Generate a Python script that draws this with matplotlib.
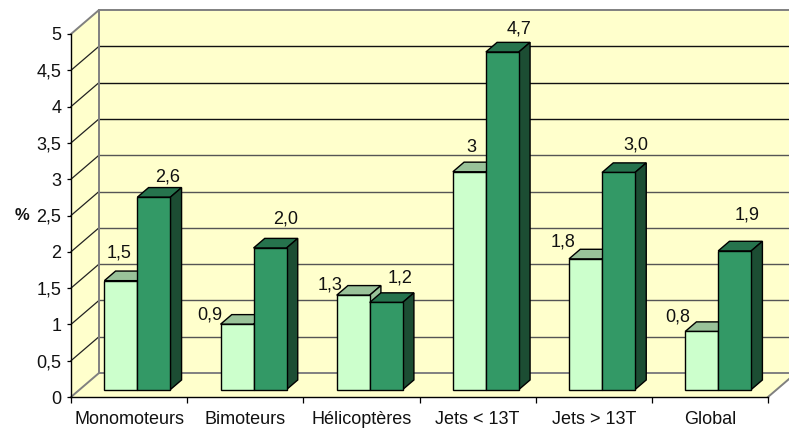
import matplotlib
matplotlib.use("Agg")
import matplotlib.pyplot as plt
from matplotlib.patches import Polygon

plt.rcParams['font.family'] = ['Liberation Sans', 'DejaVu Sans']

categories = ['Monomoteurs', 'Bimoteurs', 'Hélicoptères', 'Jets < 13T', 'Jets > 13T', 'Global']
serie_claire = [1.5, 0.9, 1.3, 3.0, 1.8, 0.8]
serie_foncee = [2.65, 1.95, 1.2, 4.65, 2.99, 1.91]
labels_claire = ['1,5', '0,9', '1,3', '3', '1,8', '0,8']
labels_foncee = ['2,6', '2,0', '1,2', '4,7', '3,0', '1,9']
y_ticks = [0, 0.5, 1, 1.5, 2, 2.5, 3, 3.5, 4, 4.5, 5]
y_tick_labels = ['0', '0,5', '1', '1,5', '2', '2,5', '3', '3,5', '4', '4,5', '5']

# geometrie en pixels
W, H = 789, 430
X0, Y0 = 71, 397
PX_CAT = 697 / 6
PX_VAL = 72.6
DX, DY = 28 / PX_CAT, 24 / PX_VAL

# decalages des etiquettes en pixels (par rapport au centre du haut de la barre)
OFFSET_CLAIRE = [(-2, 28), (-27, 9), (-23, 10), (2, 24), (-22, 17), (-24, 14)]
OFFSET_FONCEE = [(14, 20), (16, 29), (14, 24), (17, 23), (17, 27), (12, 36)]


def proj(x, y, d):
    return (x + d * DX, y + d * DY)


def draw_box(ax, x1, x2, val, face, top, side):
    d1, d2 = 0.31, 0.71
    base = -0.0
    a = proj(x1, base, d1)
    b = proj(x2, base, d1)
    c = proj(x2, val, d1)
    e = proj(x1, val, d1)
    f = proj(x2, base, d2)
    g = proj(x2, val, d2)
    h = proj(x1, val, d2)
    ax.add_patch(Polygon([e, c, g, h], fc=top, ec='black', lw=1.0, zorder=3))
    ax.add_patch(Polygon([b, f, g, c], fc=side, ec='black', lw=1.0, zorder=3))
    ax.add_patch(Polygon([a, b, c, e], fc=face, ec='black', lw=1.0, zorder=3))


fig = plt.figure(figsize=(W / 100, H / 100), dpi=100)
ax = fig.add_axes([0, 0, 1, 1])
ax.set_xlim(-X0 / PX_CAT, (W - X0) / PX_CAT)
ax.set_ylim(-(H - Y0) / PX_VAL, Y0 / PX_VAL)
ax.patch.set_visible(False)

n = len(categories)
y_max = y_ticks[-1]

# murs et plancher
ax.add_patch(Polygon([proj(0, 0, 1), proj(n, 0, 1), proj(n, y_max, 1), proj(0, y_max, 1)],
                     fc='#FFFFCC', ec='none', zorder=0))
ax.add_patch(Polygon([proj(0, 0, 0), proj(0, 0, 1), proj(0, y_max, 1), proj(0, y_max, 0)],
                     fc='#FFFFCC', ec='none', zorder=0))
ax.add_patch(Polygon([proj(0, 0, 0), proj(n, 0, 0), proj(n, 0, 1), proj(0, 0, 1)],
                     fc='#FFFFCC', ec='none', zorder=0))

# grille (le trait est plus clair vers le bas dans l'image d'origine)
for v in y_ticks[1:-1]:
    couleur = '#111111' if v >= 3.5 else '#555555'
    p0, p1, p2 = proj(0, v, 0), proj(0, v, 1), proj(n, v, 1)
    ax.plot([p0[0], p1[0]], [p0[1], p1[1]], color='#222222', lw=0.9, zorder=1)
    ax.plot([p1[0], p2[0]], [p1[1], p2[1]], color=couleur, lw=1.0, zorder=1)

# bords gris
gris = '#808080'
for pts in ([proj(0, y_max, 0), proj(0, y_max, 1), proj(n, y_max, 1)],
            [proj(0, 0, 0), proj(0, 0, 1), proj(n, 0, 1)],
            [proj(n, 0, 0), proj(n, 0, 1)],
            [proj(0, 0, 1), proj(0, y_max, 1)]):
    ax.plot([p[0] for p in pts], [p[1] for p in pts], color=gris, lw=1.4, zorder=1)

# barres
largeur = 33 / PX_CAT
debut = 24.7 / PX_CAT
for i in range(n):
    x1 = i + debut
    x2 = x1 + largeur
    x3 = x2 + largeur
    draw_box(ax, x1, x2, serie_claire[i], '#CCFFCC', '#99C299', '#99C299')
    draw_box(ax, x2, x3, serie_foncee[i], '#339966', '#26734D', '#1C4D33')
    for x, val, txt, off in ((x1, serie_claire[i], labels_claire[i], OFFSET_CLAIRE[i]),
                             (x2, serie_foncee[i], labels_foncee[i], OFFSET_FONCEE[i])):
        px, py = proj(x + largeur / 2, val, 0.31)
        ax.text(px + off[0] / PX_CAT, py + off[1] / PX_VAL, txt, ha='center', va='center',
                fontsize=13, color='#111111', zorder=4)

# axes
for s in ('top', 'right'):
    ax.spines[s].set_visible(False)
ax.spines['left'].set_position(('data', 0))
ax.spines['bottom'].set_position(('data', 0))
ax.spines['left'].set_bounds(0, y_max)
ax.spines['bottom'].set_bounds(0, n)
ax.spines['left'].set_linewidth(1.0)
ax.spines['bottom'].set_linewidth(1.0)
ax.set_yticks(y_ticks)
ax.set_yticklabels(y_tick_labels, fontsize=13, color='#111111')
ax.set_xticks(range(n + 1))
ax.set_xticklabels([])
ax.set_xticks([i + 0.5 for i in range(n)], minor=True)
ax.set_xticklabels(categories, minor=True, fontsize=13, color='#111111')
ax.tick_params(axis='y', length=3, width=0.9, pad=4)
ax.tick_params(axis='x', which='major', length=4, width=0.9)
ax.tick_params(axis='x', which='minor', length=0, pad=10)

ax.text((22 - X0) / PX_CAT, (Y0 - 216) / PX_VAL, '%', ha='center', va='center',
        fontsize=12, fontweight='bold', color='#111111')

fig.savefig('out.png', dpi=100)
